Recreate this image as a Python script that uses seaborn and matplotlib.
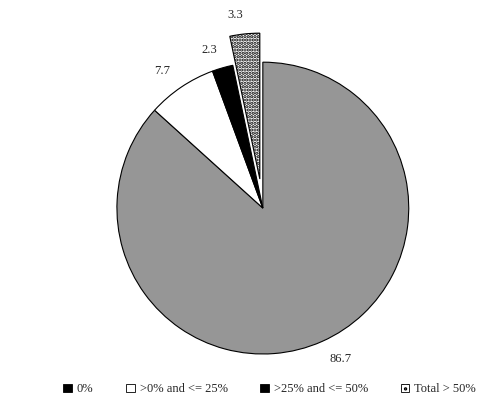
import matplotlib
matplotlib.use('Agg')
import matplotlib.pyplot as plt
import seaborn as sns
from matplotlib.patches import Patch

categories = ['0%', '>0% and <= 25%', '>25% and <= 50%', 'Total > 50%']
values = [86.7, 7.7, 2.3, 3.3]
colors = ['#969696', 'white', 'black', 'white']
hatches = ['', '', '', '.....']
legend_colors = ['black', 'white', 'black', 'white']
explode = [0, 0, 0, 0.2]

sns.set_style('white')
plt.rcParams['font.family'] = ['Liberation Serif', 'DejaVu Serif']
plt.rcParams['hatch.linewidth'] = 1.6

fig = plt.figure(figsize=(5.04, 4.17), dpi=100)
# pie radius ~146 px, centred at (263, 208) px
ax = fig.add_axes([0.232, 0.151, 0.579, 0.700])

wedges, texts = ax.pie(values, colors=colors, explode=explode, startangle=90,
                       counterclock=False, labels=[f'{v:.1f}' for v in values],
                       labeldistance=1.13, frame=False,
                       wedgeprops=dict(edgecolor='black', linewidth=0.8),
                       textprops=dict(fontsize=9))
for w, h in zip(wedges, hatches):
    w.set_clip_on(False)
    if h:
        w.set_hatch(h)
for t in texts:
    t.set_clip_on(False)
ax.set_xlim(-1, 1)
ax.set_ylim(-1, 1)
ax.set_aspect('equal')

handles = [Patch(facecolor=c, edgecolor='black', hatch=h.replace('.....', '...'), linewidth=0.6)
           for c, h in zip(legend_colors, hatches)]
fig.legend(handles, categories, loc='lower center', bbox_to_anchor=(0.535, 0.025),
           ncol=4, frameon=False, fontsize=9, handlelength=0.7, handleheight=0.7,
           columnspacing=2.6, handletextpad=0.4)

fig.savefig('out.png', dpi=100)
